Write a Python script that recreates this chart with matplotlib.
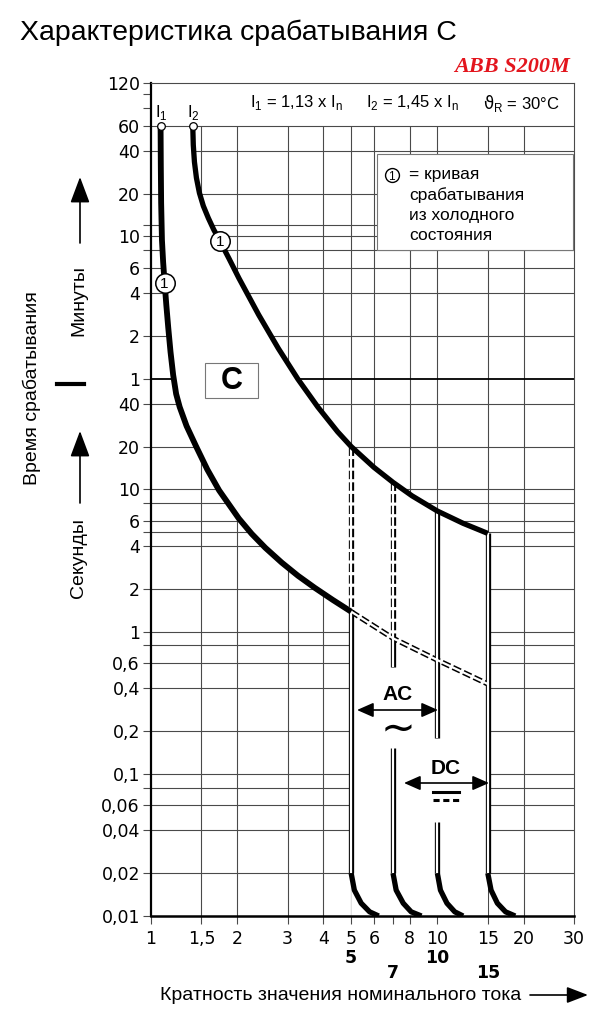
import matplotlib
matplotlib.use('Agg')
import matplotlib.pyplot as plt
from matplotlib.patches import Rectangle, FancyArrowPatch, ArrowStyle
from matplotlib.lines import Line2D
from matplotlib.transforms import Affine2D, blended_transform_factory
from matplotlib.ticker import FixedLocator, FixedFormatter, NullFormatter

plt.rcParams['font.family'] = ['Liberation Sans', 'DejaVu Sans']
plt.rcParams['mathtext.fontset'] = 'custom'
plt.rcParams['mathtext.rm'] = 'Liberation Sans'
plt.rcParams['mathtext.it'] = 'DejaVu Sans'
plt.rcParams['mathtext.bf'] = 'Liberation Sans:bold'

# ---------------- data ----------------
MIN = 60.0  # seconds per minute

ytick_vals = [120*MIN, 60*MIN, 40*MIN, 20*MIN, 10*MIN, 6*MIN, 4*MIN, 2*MIN, 1*MIN,
              40, 20, 10, 6, 4, 2, 1, 0.6, 0.4, 0.2, 0.1, 0.06, 0.04, 0.02, 0.01]
ytick_labels = ['120', '60', '40', '20', '10', '6', '4', '2', '1',
                '40', '20', '10', '6', '4', '2', '1', '0,6', '0,4', '0,2', '0,1',
                '0,06', '0,04', '0,02', '0,01']
yminor_vals = [100*MIN, 80*MIN, 12*MIN, 8*MIN, 8, 5, 0.8, 0.08]
hgrid_vals = [40*MIN, 20*MIN, 12*MIN, 10*MIN, 8*MIN, 6*MIN, 4*MIN, 2*MIN,
              40, 20, 10, 8, 6, 5, 4, 2, 1, 0.8, 0.6, 0.4, 0.2, 0.1, 0.08, 0.06, 0.04, 0.02]
minute_line = 1*MIN
hour_line = 60*MIN

xtick_vals = [1, 1.5, 2, 3, 4, 5, 6, 8, 10, 15, 20, 30]
xtick_labels = ['1', '1,5', '2', '3', '4', '5', '6', '8', '10', '15', '20', '30']
xminor_vals = [7]
vgrid_vals = [1.5, 2, 3, 4, 5, 6, 8, 10, 15, 20]

inst_vals = [5, 7, 10, 15]
inst_labels = ['5', '7', '10', '15']

# thermal trip curves (x = multiple of In, t = seconds)
upper_x = [1.399, 1.405, 1.418, 1.441, 1.476, 1.523, 1.585, 1.655, 1.740, 1.873,
           2.027, 2.376, 2.785, 3.26, 3.826, 4.484, 5.0, 6.0, 7.0, 8.16, 10.0, 12.3, 15.0]
upper_t = [3600, 2642, 2006, 1548, 1214, 984, 810, 672, 558, 419,
           305.7, 169, 97.8, 59.5, 37.9, 25.4, 20, 14.3, 11.2, 9.0, 7.04, 5.77, 4.9]
lower_x = [1.080, 1.082, 1.085, 1.092, 1.1025, 1.1157, 1.131, 1.149, 1.170, 1.195,
           1.224, 1.259, 1.331, 1.438, 1.573, 1.729, 2.027, 2.247, 2.506, 2.86, 3.26,
           3.73, 4.31, 5.0]
lower_t = [3600, 1911, 1033, 567, 397, 283, 198, 136.5, 92.5, 63.8,
           46.9, 38.0, 27.9, 20, 13.78, 9.84, 6.23, 4.87, 3.886, 3.057, 2.469,
           2.032, 1.671, 1.38]

# dashed continuation of the lower curve
ext_x = [5, 7, 10, 15]
ext_t = [1.38, 0.897, 0.63, 0.428]

# vertical dashed double lines (x, t_top, t_bottom)
vdash = [(5, 20, 1.38), (7, 11.2, 0.897)]
# vertical solid double lines (x, t_top, t_bottom)
vsolid = [(5, 1.38, 0.02), (7, 0.897, 0.567), (7, 0.151, 0.02),
          (10, 7.04, 0.178), (10, 0.046, 0.02), (15, 4.9, 0.02)]

# magnetic trip toe curves
toe_t = [0.02, 0.0152, 0.0123, 0.0107, 0.01]
toe5_x = [5.0, 5.13, 5.42, 5.80, 6.24]
toe7_x = [7.0, 7.18, 7.6, 8.1, 8.8]
toe10_x = [10.0, 10.25, 10.8, 11.5, 12.3]
toe15_x = [15.0, 15.4, 16.2, 17.3, 18.7]

# cold-state markers
mark_x = [1.1157, 1.740]
mark_t = [283, 558]
start_x = [1.080, 1.399]
start_t = [3600, 3600]

# ---------------- figure ----------------
W, H = 613, 1024
fig = plt.figure(figsize=(W/100, H/100), dpi=100)
T = Affine2D().scale(1.0/W, -1.0/H).translate(0, 1) + fig.transFigure

ax = fig.add_axes([151/W, 1-916/H, (574-151)/W, (916-83)/H])
ax.set_xscale('log')
ax.set_yscale('log')
ax.set_xlim(1, 30)
ax.set_ylim(0.01, 7200)

GC = '#4a4a4a'
ax.hlines(hgrid_vals, 1, 30, color=GC, lw=0.8, zorder=1)
ax.hlines([minute_line], 1, 30, color='black', lw=1.3, zorder=1.5)
ax.hlines([hour_line], 1, 30, color=GC, lw=0.8, zorder=3)
ax.vlines(vgrid_vals, 0.01, hour_line, color=GC, lw=0.8, zorder=1)

# white tripping band (no grid inside)
band_x = lower_x + [inst_vals[0], inst_vals[-1], inst_vals[-1]] + upper_x[::-1]
band_t = lower_t + [0.01, 0.01, upper_t[-1]] + upper_t[::-1]
ax.fill(band_x, band_t, color='white', lw=0, zorder=2)


def double_line(xs, ts, dashed=False):
    ls = (0, (1.6, 0.6)) if dashed else '-'
    ax.plot(xs, ts, color='black', lw=3.8, ls=ls, solid_capstyle='butt',
            dash_capstyle='butt', zorder=4)
    ax.plot(xs, ts, color='white', lw=1.6, solid_capstyle='butt', zorder=5)


double_line(ext_x, ext_t, dashed=True)
for x, t0, t1 in vdash:
    double_line([x, x], [t0, t1], dashed=True)
for x, t0, t1 in vsolid:
    double_line([x, x], [t0, t1])

ax.plot(upper_x, upper_t, color='black', lw=3.8, solid_capstyle='butt', zorder=6)
ax.plot(lower_x, lower_t, color='black', lw=4.2, solid_capstyle='butt', zorder=6)
for tx in (toe5_x, toe7_x, toe10_x, toe15_x):
    ax.plot(tx, toe_t, color='black', lw=3.8, solid_capstyle='butt', zorder=6)

ax.plot(start_x, start_t, 'o', ms=5.5, mfc='white', mec='black', mew=0.9, zorder=8, clip_on=False)
ax.plot(mark_x, mark_t, 'o', ms=14, mfc='white', mec='black', mew=1.1, zorder=8)
for mx, mt in zip(mark_x, mark_t):
    ax.text(mx, mt, '1', ha='center', va='center_baseline', fontsize=11, zorder=9)

# axes styling
for s in ('top', 'right'):
    ax.spines[s].set_color(GC)
    ax.spines[s].set_linewidth(0.8)
ax.spines['left'].set_linewidth(1.6)
ax.spines['bottom'].set_linewidth(1.8)
for s in ax.spines.values():
    s.set_zorder(10)

ax.yaxis.set_major_locator(FixedLocator(ytick_vals))
ax.yaxis.set_major_formatter(FixedFormatter(ytick_labels))
ax.yaxis.set_minor_locator(FixedLocator(yminor_vals))
ax.yaxis.set_minor_formatter(NullFormatter())
ax.xaxis.set_major_locator(FixedLocator(xtick_vals))
ax.xaxis.set_major_formatter(FixedFormatter(xtick_labels))
ax.xaxis.set_minor_locator(FixedLocator(xminor_vals))
ax.xaxis.set_minor_formatter(NullFormatter())
ax.tick_params(axis='both', which='both', direction='out', length=6, width=0.8,
               color=GC, labelsize=12.5, labelfontfamily='DejaVu Sans')
ax.tick_params(axis='y', which='both', pad=2)
ax.tick_params(axis='x', which='both', pad=4)

# bold instantaneous labels under x axis
bt = blended_transform_factory(ax.transData, T)
for v, lab, row in zip(inst_vals, inst_labels, [0, 1, 0, 1]):
    ax.text(v, 958 + 15*row, lab, transform=bt, ha='center', va='center',
            fontsize=12.5, fontweight='bold', family='DejaVu Sans', clip_on=False)

# ---------------- annotations ----------------
fig.text(20, 33, 'Характеристика срабатывания C', transform=T, fontsize=20.5,
         ha='left', va='center')
fig.text(570, 67, 'ABB S200M', transform=T, fontsize=16, ha='right', va='center',
         family='Liberation Serif', fontweight='bold', style='italic', color='#e3151d')

fig.text(161.5, 113, r'I$_1$', transform=T, fontsize=12, ha='center', va='center')
fig.text(193.5, 113, r'I$_2$', transform=T, fontsize=12, ha='center', va='center')
fig.text(250, 103, r'I$_1$ = 1,13 x I$_\mathrm{n}$', transform=T, fontsize=12, ha='left', va='center')
fig.text(366, 103, r'I$_2$ = 1,45 x I$_\mathrm{n}$', transform=T, fontsize=12, ha='left', va='center')
fig.text(483, 103, r'$\vartheta_\mathrm{R}$ = 30°C', transform=T, fontsize=12, ha='left', va='center')

# legend box
fig.add_artist(Rectangle((377, 154), 196, 96, transform=T, facecolor='white',
                         edgecolor='#777777', lw=0.8, zorder=3))
fig.add_artist(Line2D([391.7], [175], transform=T, marker='o', ms=10, mfc='white',
                      mec='black', mew=1.0, zorder=4))
fig.text(391.7, 175, '1', transform=T, fontsize=8.5, ha='center', va='center_baseline', zorder=5)
for i, line in enumerate(['= кривая', 'срабатывания', 'из холодного', 'состояния']):
    fig.text(409, 175 + 20.3*i, line, transform=T, fontsize=12.5, ha='left', va='center', zorder=5)

# C box
fig.add_artist(Rectangle((205, 363), 53, 35, transform=T, facecolor='white',
                         edgecolor='#777777', lw=0.8, zorder=3))
fig.text(231.5, 381, 'C', transform=T, fontsize=22, fontweight='bold', ha='center',
         va='center', zorder=4)

# AC / DC
small_head = ArrowStyle('<|-|>', head_length=0.5, head_width=0.22)
fig.text(398, 695, 'AC', transform=T, fontsize=15, fontweight='bold', ha='center', va='center', zorder=7)
fig.add_artist(FancyArrowPatch((357, 710), (438, 710), transform=T, arrowstyle=small_head,
                               mutation_scale=20, color='black', lw=1.2, shrinkA=0, shrinkB=0, zorder=7))
fig.text(398, 729, '∼', transform=T, fontsize=30, family='DejaVu Sans',
         ha='center', va='center', zorder=7)
fig.text(446, 768, 'DC', transform=T, fontsize=15, fontweight='bold', ha='center', va='center', zorder=7)
fig.add_artist(FancyArrowPatch((404, 783), (489, 783), transform=T, arrowstyle=small_head,
                               mutation_scale=20, color='black', lw=1.2, shrinkA=0, shrinkB=0, zorder=7))
fig.add_artist(Line2D([433, 459], [791.5, 791.5], transform=T, color='black', lw=2.2, zorder=7))
fig.add_artist(Line2D([433, 459], [800, 800], transform=T, color='black', lw=2.2,
                      ls=(0, (2.0, 1.2)), dash_capstyle='butt', zorder=7))

# y-axis side labels
fig.text(32, 388, 'Время срабатывания', transform=T, fontsize=14, rotation=90,
         ha='center', va='center')
fig.text(79, 301, 'Минуты', transform=T, fontsize=14, rotation=90, ha='center', va='center')
fig.text(79, 558, 'Секунды', transform=T, fontsize=14, rotation=90, ha='center', va='center')
fig.add_artist(Line2D([57, 84], [383.5, 383.5], transform=T, color='black', lw=3.0))
up_head = ArrowStyle('-|>', head_length=0.8, head_width=0.3)
for y0, y1 in [(243, 177), (503, 431)]:
    fig.add_artist(FancyArrowPatch((80, y0), (80, y1), transform=T, arrowstyle=up_head,
                                   mutation_scale=20, color='black', lw=1.2, shrinkA=0, shrinkB=0))

# x-axis label
fig.text(160, 995, 'Кратность значения номинального тока', transform=T, fontsize=14,
         ha='left', va='center')
fig.add_artist(FancyArrowPatch((530, 995), (588, 995), transform=T,
                               arrowstyle=ArrowStyle('-|>', head_length=0.65, head_width=0.25),
                               mutation_scale=20, color='black', lw=1.2, shrinkA=0, shrinkB=0))

fig.savefig('out.png', dpi=100, facecolor='white')
